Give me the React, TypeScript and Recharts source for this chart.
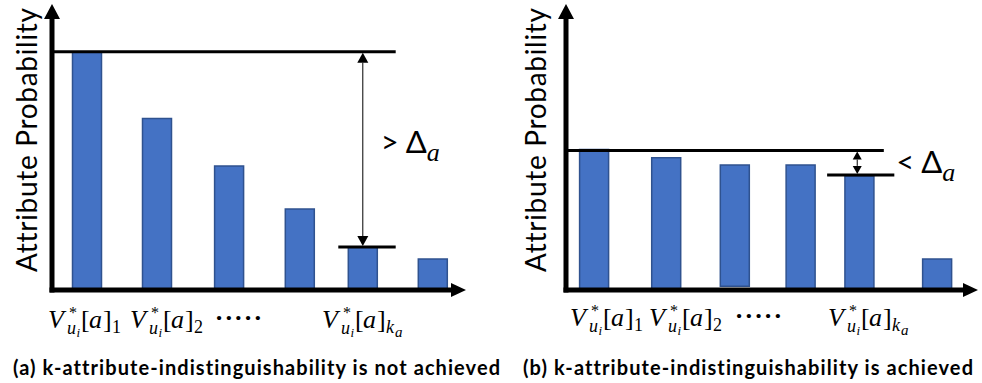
import { BarChart, Bar, XAxis, YAxis, ReferenceLine } from 'recharts';

// bar centres (x units, one unit ~ one slot), bar bottoms and probabilities
const leftPositions = [0.5, 1.5, 2.53, 3.54, 4.44, 5.44];
const leftBase = [0, 0, 0, 0, 0, 0];
const leftProbs = [1.0, 0.72, 0.52, 0.34, 0.18, 0.13];
const rightPositions = [0.4, 1.43, 2.41, 3.35, 4.19, 5.3];
const rightBase = [0, 0, 0.016, 0, 0, 0];
const rightProbs = [0.59, 0.555, 0.525, 0.525, 0.478, 0.13];

// x tick labels: V*_{u_i}[a]_1, V*_{u_i}[a]_2, ....., V*_{u_i}[a]_{k_a}
const tickKinds = ['1', '2', 'dots', 'ka'];
const leftTickPos = [0.471, 1.643, 2.671, 4.457];
const rightTickPos = [0.586, 1.714, 2.757, 4.343];

// max probability level and k_a-th level
const leftLevels = [1.0, 0.18];
const rightLevels = [0.585, 0.483];

const yLabel = 'Attribute Probability';
const captions = [
  '(a) k-attribute-indistinguishability is not achieved',
  '(b) k-attribute-indistinguishability is achieved',
];

const sans = 'Lato, "DejaVu Sans", sans-serif';
const serif = '"Liberation Serif", "DejaVu Serif", serif';
const noLig = { fontVariantLigatures: 'none', fontFeatureSettings: '"liga" 0' } as any;

const MathTick = (props: any) => {
  const { x, y, index, baseline } = props;
  const kind = tickKinds[index];
  const b = y + baseline;
  if (kind === 'dots') {
    return (
      <text x={x} y={b - 2} textAnchor="middle" fontFamily={serif} fontSize={26} fontWeight={700} letterSpacing={1} fill="#000">
        ·····
      </text>
    );
  }
  const w = kind === 'ka' ? 84 : 74;
  const x0 = x - w / 2;
  return (
    <text fontFamily={serif} fill="#000" fontSize={26}>
      <tspan x={x0} y={b} fontStyle="italic">V</tspan>
      <tspan x={x0 + 21} y={b - 10} fontSize={16}>*</tspan>
      <tspan x={x0 + 19} y={b + 6} fontSize={18} fontStyle="italic">u</tspan>
      <tspan x={x0 + 28.5} y={b + 9} fontSize={13} fontStyle="italic">i</tspan>
      <tspan x={x0 + 33} y={b}>[</tspan>
      <tspan x={x0 + 41} y={b} fontStyle="italic">a</tspan>
      <tspan x={x0 + 55} y={b}>]</tspan>
      {kind === 'ka' ? (
        <>
          <tspan x={x0 + 64} y={b + 5} fontSize={18} fontStyle="italic">k</tspan>
          <tspan x={x0 + 73} y={b + 9} fontSize={15} fontStyle="italic">a</tspan>
        </>
      ) : (
        <tspan x={x0 + 64} y={b + 5} fontSize={18}>{kind}</tspan>
      )}
    </text>
  );
};

const yAxisArrow = (p: any) => {
  const { x1, y1, y2 } = p;
  const top = Math.min(y1, y2);
  const bot = Math.max(y1, y2);
  return (
    <g>
      <line x1={x1} y1={bot + 2.5} x2={x1} y2={top + 13} stroke="#000" strokeWidth={5} />
      <polygon points={`${x1},${top} ${x1 - 8},${top + 15} ${x1 + 8},${top + 15}`} fill="#000" />
    </g>
  );
};

const xAxisArrow = (p: any) => {
  const { x1, x2, y1 } = p;
  return (
    <g>
      <line x1={x1 - 2.5} y1={y1} x2={x2 - 13} y2={y1} stroke="#000" strokeWidth={5} />
      <polygon points={`${x2 + 1},${y1} ${x2 - 14},${y1 - 7} ${x2 - 14},${y1 + 7}`} fill="#000" />
    </g>
  );
};

const deltaArrow = (sign: string, head: number, dx: number, dy: number) => (p: any) => {
  const { x1, y1, y2 } = p;
  const top = Math.min(y1, y2);
  const bot = Math.max(y1, y2);
  const hw = head / 2;
  return (
    <g>
      <line x1={x1} y1={top + head} x2={x1} y2={bot - head} stroke="#000" strokeWidth={1} />
      <polygon points={`${x1},${top + 1} ${x1 - hw},${top + head} ${x1 + hw},${top + head}`} fill="#000" />
      <polygon points={`${x1},${bot - 1} ${x1 - hw},${bot - head} ${x1 + hw},${bot - head}`} fill="#000" />
      <text x={x1 + dx} y={(top + bot) / 2 + dy} fontFamily={sans} fontSize={31} fill="#000">
        {`${sign} Δ`}
        <tspan fontFamily={serif} fontStyle="italic" fontSize={26} dy={8}>a</tspan>
      </text>
    </g>
  );
};

interface PanelProps {
  positions: number[];
  base: number[];
  probs: number[];
  tickPos: number[];
  levels: number[];
  topSpan: number[];
  lowSpan: number[];
  arrowX: number;
  sign: string;
  caption: string;
  captionWidth: number;
  left: number;
  width: number;
  marginLeft: number;
  marginRight: number;
  xMax: number;
  head: number;
  deltaDx: number;
  deltaDy: number;
  yLabelDx: number;
  captionDx: number;
  tickBaseline: number;
}

const Panel = (p: PanelProps) => {
  const data = p.positions.map((x, i) => ({ x, prob: [p.base[i], p.probs[i]] }));
  return (
    <div style={{ position: 'absolute', left: p.left, top: 0 }}>
      <BarChart
        width={p.width}
        height={383}
        data={data}
        margin={{ top: 4, right: p.marginRight, left: p.marginLeft, bottom: 33 }}
      >
        <XAxis
          type="number"
          dataKey="x"
          domain={[0, p.xMax]}
          allowDataOverflow
          ticks={p.tickPos}
          interval={0}
          axisLine={false}
          tickLine={false}
          tickSize={0}
          tickMargin={0}
          height={60}
          tick={(t: any) => <MathTick {...t} baseline={p.tickBaseline} />}
          label={(l: any) => (
            <g>
              <text
                transform={`translate(${l.viewBox.x + p.yLabelDx}, 140) rotate(-90)`}
                textAnchor="middle"
                fontFamily={sans}
                fontSize={28}
                textLength={264}
                style={noLig}
                fill="#000"
              >
                {yLabel}
              </text>
              <text
                x={l.viewBox.x + p.captionDx}
                y={375}
                fontFamily={sans}
                fontWeight={700}
                fontSize={20}
                textLength={p.captionWidth}
                style={noLig}
                fill="#000"
              >
                {p.caption}
              </text>
            </g>
          )}
        />
        <YAxis type="number" domain={[0, 1.2]} allowDataOverflow hide />
        <Bar dataKey="prob" fill="#4472C4" stroke="#2F528F" strokeWidth={1.5} barSize={29} isAnimationActive={false} />
        <ReferenceLine
          segment={[{ x: 0, y: p.levels[0] }, { x: p.topSpan[1], y: p.levels[0] }]}
          stroke="#000"
          strokeWidth={3}
          ifOverflow="visible"
        />
        <ReferenceLine
          segment={[{ x: p.lowSpan[0], y: p.levels[1] }, { x: p.lowSpan[1], y: p.levels[1] }]}
          stroke="#000"
          strokeWidth={3}
          ifOverflow="visible"
        />
        <ReferenceLine
          segment={[{ x: p.arrowX, y: p.levels[1] }, { x: p.arrowX, y: p.levels[0] }]}
          ifOverflow="visible"
          shape={deltaArrow(p.sign, p.head, p.deltaDx, p.deltaDy)}
        />
        <ReferenceLine
          segment={[{ x: 0, y: 0 }, { x: 0, y: 1.2 }]}
          ifOverflow="visible"
          shape={yAxisArrow}
        />
        <ReferenceLine
          segment={[{ x: 0, y: 0 }, { x: p.xMax, y: 0 }]}
          ifOverflow="visible"
          shape={xAxisArrow}
        />
      </BarChart>
    </div>
  );
};

export default function App() {
  return (
    <div style={{ position: 'absolute', left: 0, top: 0, width: 982, height: 383, background: '#fff' }}>
      <Panel
        positions={leftPositions}
        base={leftBase}
        probs={leftProbs}
        tickPos={leftTickPos}
        levels={leftLevels}
        topSpan={[0, 4.91]}
        lowSpan={[4.09, 4.91]}
        arrowX={4.44}
        sign=">"
        caption={captions[0]}
        captionWidth={487}
        left={0}
        width={510}
        marginLeft={52}
        marginRight={45}
        xMax={5.9}
        head={11}
        deltaDx={18}
        deltaDy={4}
        yLabelDx={-15}
        captionDx={-39}
        tickBaseline={38}
      />
      <Panel
        positions={rightPositions}
        base={rightBase}
        probs={rightProbs}
        tickPos={rightTickPos}
        levels={rightLevels}
        topSpan={[0, 4.54]}
        lowSpan={[3.73, 4.69]}
        arrowX={4.16}
        sign="<"
        caption={captions[1]}
        captionWidth={450}
        left={490}
        width={492}
        marginLeft={76}
        marginRight={5}
        xMax={5.871}
        head={9}
        deltaDx={39}
        deltaDy={10}
        yLabelDx={-20}
        captionDx={-43}
        tickBaseline={36}
      />
    </div>
  );
}
